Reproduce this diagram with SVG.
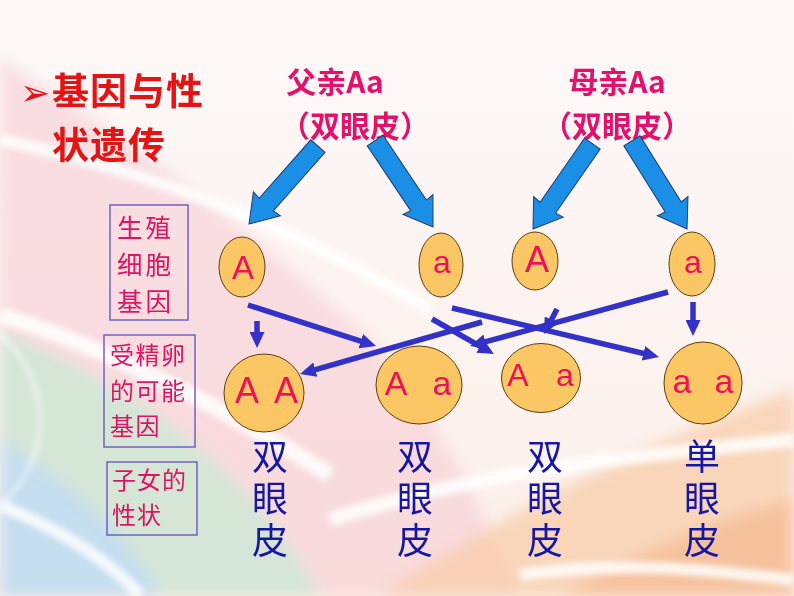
<svg xmlns="http://www.w3.org/2000/svg" width="794" height="596" viewBox="0 0 794 596">
<style>
.cjk{font-family:"Noto Sans CJK SC","Noto Sans",sans-serif}
.lat{font-family:"Liberation Sans",Arial,sans-serif}
.parent{font-size:30px;font-weight:bold;fill:#e2126a;text-anchor:middle}
.lbl{fill:#dc1462}
.lbox{fill:none;stroke:#7262c4;stroke-width:1.5}
.gam{fill:#fac764;stroke:#5a3c14;stroke-width:1}
.gl{fill:#ee1158;text-anchor:middle}
.trait{font-size:36px;fill:#1616a4;writing-mode:vertical-rl;letter-spacing:6px}
.big{fill:#1b8fe6;stroke:#1e3a70;stroke-width:1}
.con{stroke:#3232c8;stroke-width:5.5;fill:none;marker-end:url(#ah)}
</style>
<defs>
<linearGradient id="bg" x1="0" y1="0" x2="0" y2="1">
<stop offset="0" stop-color="#fdf8f8"/><stop offset="1" stop-color="#fcefe9"/>
</linearGradient>
<filter id="blur" x="-20%" y="-20%" width="140%" height="140%"><feGaussianBlur stdDeviation="7"/></filter>
<filter id="blur2" x="-20%" y="-20%" width="140%" height="140%"><feGaussianBlur stdDeviation="3"/></filter>
<marker id="ah" viewBox="0 0 16 15" refX="8" refY="7.5" markerWidth="16" markerHeight="15" markerUnits="userSpaceOnUse" orient="auto">
<path d="M0,0 L16,7.5 L0,15 Z" fill="#3232c8"/>
</marker>
<path id="bigArrow" d="M0,0 L-27,-18 L-26,-9.5 L-104,-9.5 L-104,9.5 L-26,9.5 L-27,18 Z"/>
</defs>
<g id="background">
<rect width="794" height="596" fill="url(#bg)"/>
<g filter="url(#blur)">
<path d="M0,60 C120,130 260,240 360,330 C420,390 470,480 520,596 L0,596 Z" fill="#f6cdd4" opacity="0.6"/>
<path d="M0,330 C120,380 250,460 320,596 L0,596 Z" fill="#cfe7d6" opacity="0.85"/>
<path d="M0,440 C70,485 130,535 160,596 L0,596 Z" fill="#c3def3" opacity="0.9"/>
<path d="M380,596 C520,500 680,430 794,390 L794,596 Z" fill="#f8cfae" opacity="0.8"/>
<path d="M560,596 C660,540 740,510 794,500 L794,596 Z" fill="#f5b68c" opacity="0.6"/>
</g>
<g filter="url(#blur2)" fill="none" stroke="#ffffff" opacity="0.85">
<path d="M0,140 C150,170 300,230 430,310" stroke-width="12"/>
<path d="M0,315 C100,345 220,405 330,475" stroke-width="16"/>
<path d="M0,505 C60,530 110,560 140,596" stroke-width="12"/>
<path d="M330,520 C480,470 640,455 794,440" stroke-width="14"/>
<path d="M520,575 C620,560 710,570 794,580" stroke-width="12"/>
<circle cx="-70" cy="420" r="110" stroke-width="3"/>
</g>
</g>
<g id="title">
<text class="cjk" font-size="37" font-weight="bold" fill="#e41414"><tspan x="20" y="105" font-family="DejaVu Sans" font-size="36">➢</tspan><tspan x="52" y="105" letter-spacing="1">基因与性</tspan><tspan x="52" y="159" letter-spacing="1">状遗传</tspan></text>
</g>
<g id="father">
<text class="cjk parent"><tspan x="335" y="93">父亲Aa</tspan><tspan x="355" y="137">（双眼皮）</tspan></text>
</g>
<g id="mother">
<text class="cjk parent"><tspan x="617" y="93">母亲Aa</tspan><tspan x="617" y="137">（双眼皮）</tspan></text>
</g>
<g id="label-gamete">
<rect class="lbox" x="110" y="205" width="78" height="115"/>
<text class="cjk lbl" font-size="25.5" letter-spacing="3"><tspan x="117" y="237">生殖</tspan><tspan x="117" y="274">细胞</tspan><tspan x="117" y="311">基因</tspan></text>
</g>
<g id="label-zygote">
<rect class="lbox" x="104" y="335" width="91" height="112"/>
<text class="cjk lbl" font-size="24" letter-spacing="1.5"><tspan x="110" y="364">受精卵</tspan><tspan x="110" y="399.5">的可能</tspan><tspan x="110" y="435">基因</tspan></text>
</g>
<g id="label-trait">
<rect class="lbox" x="107" y="462" width="90" height="73"/>
<text class="cjk lbl" font-size="24" letter-spacing="1"><tspan x="112" y="489">子女的</tspan><tspan x="112" y="524">性状</tspan></text>
</g>
<g id="gamete-father-A">
<ellipse class="gam" cx="242" cy="267" rx="23" ry="30"/>
<text class="lat gl" x="243" y="279" font-size="33">A</text>
</g>
<g id="gamete-father-a">
<ellipse class="gam" cx="441" cy="265" rx="22" ry="32"/>
<text class="lat gl" x="442" y="273" font-size="32">a</text>
</g>
<g id="gamete-mother-A">
<ellipse class="gam" cx="535" cy="261" rx="23" ry="29"/>
<text class="lat gl" x="537" y="272" font-size="36">A</text>
</g>
<g id="gamete-mother-a">
<ellipse class="gam" cx="692" cy="264" rx="23" ry="32"/>
<text class="lat gl" x="693" y="273" font-size="32">a</text>
</g>
<g id="zygote-AA">
<ellipse class="gam" cx="264" cy="393" rx="40" ry="39"/>
<text class="lat gl" font-size="36"><tspan x="247" y="403">A</tspan><tspan x="286" y="403">A</tspan></text>
</g>
<g id="zygote-Aa-1">
<ellipse class="gam" cx="419" cy="385" rx="43" ry="39"/>
<text class="lat gl" font-size="34"><tspan x="396" y="395">A</tspan><tspan x="442" y="395">a</tspan></text>
</g>
<g id="zygote-Aa-2">
<ellipse class="gam" cx="541" cy="378" rx="39.5" ry="34.5"/>
<text class="lat gl" font-size="32"><tspan x="518" y="386">A</tspan><tspan x="565" y="386">a</tspan></text>
</g>
<g id="zygote-aa">
<ellipse class="gam" cx="703" cy="383" rx="39" ry="41"/>
<text class="lat gl" font-size="34"><tspan x="682" y="393">a</tspan><tspan x="724" y="393">a</tspan></text>
</g>
<g id="trait-1"><text class="cjk trait" x="270" y="438">双眼皮</text></g>
<g id="trait-2"><text class="cjk trait" x="415" y="438">双眼皮</text></g>
<g id="trait-3"><text class="cjk trait" x="545" y="438">双眼皮</text></g>
<g id="trait-4"><text class="cjk trait" x="702" y="438">单眼皮</text></g>
<g id="connectors">
<use href="#bigArrow" class="big" transform="translate(249,224) rotate(131.5)"/>
<use href="#bigArrow" class="big" transform="translate(433,227) rotate(56.2)"/>
<use href="#bigArrow" class="big" transform="translate(533,229) rotate(124.8)"/>
<use href="#bigArrow" class="big" transform="translate(687,229) rotate(58)"/>
<path class="con" d="M257,321 L257,340"/>
<path class="con" d="M248,305 L368.4,343.6"/>
<path class="con" d="M482,322 L307.7,371.8"/>
<path class="con" d="M432,319 L487,350.1"/>
<path class="con" d="M668,292 L477.7,343.9"/>
<path class="con" d="M452,308 L651.2,355.2"/>
<path class="con" d="M557,309 L547.7,326.9"/>
<path class="con" d="M693,302 L693,328"/>
</g>
</svg>
